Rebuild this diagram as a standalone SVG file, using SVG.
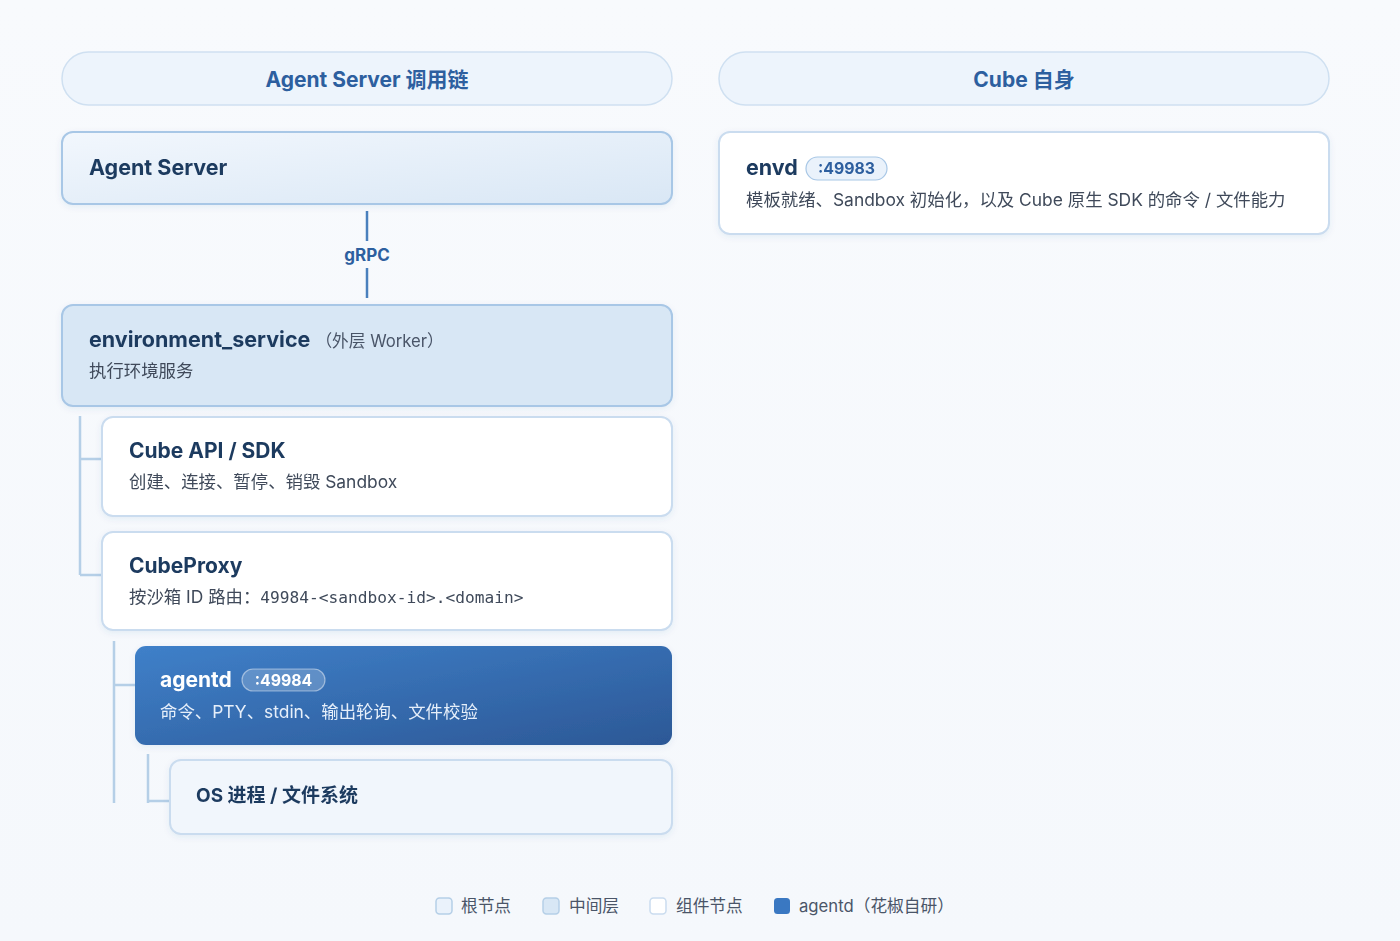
<svg xmlns="http://www.w3.org/2000/svg" width="1400" height="941" viewBox="0 0 1400 941">
<defs>
<linearGradient id="bg" x1="0" y1="0" x2="0" y2="1"><stop offset="0" stop-color="#f8fafd"/><stop offset="1" stop-color="#f5f8fc"/></linearGradient>
<linearGradient id="rootG" x1="0" y1="0" x2="1" y2="1"><stop offset="0" stop-color="#f2f7fd"/><stop offset="1" stop-color="#d9e7f5"/></linearGradient>
<linearGradient id="agentG" x1="0" y1="0" x2="1" y2="1"><stop offset="0" stop-color="#3f80c9"/><stop offset="1" stop-color="#2c5896"/></linearGradient>
<filter id="sh" x="-5%" y="-20%" width="110%" height="150%"><feDropShadow dx="0" dy="2" stdDeviation="3" flood-color="#2c5896" flood-opacity="0.08"/></filter>
<style>
text{font-family:Inter,"Noto Sans","Noto Sans CJK SC",sans-serif;}
.hdr{fill:#edf4fc;stroke:#cfe0f1;stroke-width:1.5;}
.hdrT{font-size:21px;font-weight:700;fill:#2d5f9f;text-anchor:middle;}
.node{stroke:#cadcef;stroke-width:2;}
.title{font-size:21px;font-weight:700;fill:#1e3a5f;}
.big{font-size:21.5px;}
.sub{font-size:17.4px;fill:#3f4a5a;}
.note{font-size:16.7px;fill:#4a5568;}
.mono{font-family:"DejaVu Sans Mono","Liberation Mono",monospace;font-size:16.2px;fill:#3f4a5a;}
.tree{fill:none;stroke:#b5cfe7;stroke-width:2.5;}
.conn{stroke:#4a80bd;stroke-width:2.5;}
.connT{font-size:17px;font-weight:700;fill:#2d5f9f;text-anchor:middle;}
.lg{font-size:16.7px;fill:#4a5568;}
.sw{stroke-width:1.5;}
.pill{font-size:15.8px;font-weight:700;text-anchor:middle;}
</style>
</defs>
<rect width="1400" height="941" fill="url(#bg)"/>

<g id="header-left"><rect class="hdr" x="62" y="52" width="610" height="53" rx="26.5"/><text class="hdrT" x="367" y="87">Agent Server 调用链</text></g>
<g id="header-right"><rect class="hdr" x="719" y="52" width="610" height="53" rx="26.5"/><text class="hdrT" x="1024" y="87">Cube 自身</text></g>

<g id="connectors">
<line class="conn" x1="367" y1="211" x2="367" y2="241"/>
<text class="connT" x="367" y="261">gRPC</text>
<line class="conn" x1="367" y1="268" x2="367" y2="298"/>
<path class="tree" d="M80 416 V575 M80 459 H102 M80 575 H102"/>
<path class="tree" d="M114 641 V803 M114 685 H135"/>
<path class="tree" d="M148 754 V803 M148 801 H170"/>
</g>

<g id="agent-server" filter="url(#sh)"><rect x="62" y="132" width="610" height="72" rx="11" fill="url(#rootG)" stroke="#a8c7e6" stroke-width="2"/><text class="title big" x="89" y="175">Agent Server</text></g>

<g id="environment-service" filter="url(#sh)"><rect x="62" y="305" width="610" height="101" rx="11" fill="#d8e7f5" stroke="#a8c7e6" stroke-width="2"/>
<text x="89" y="347"><tspan class="title big">environment_service</tspan><tspan class="note" dx="5">（外层 Worker）</tspan></text>
<text class="sub" x="89" y="377">执行环境服务</text></g>

<g id="cube-api" filter="url(#sh)"><rect class="node" x="102" y="417" width="570" height="99" rx="11" fill="#ffffff"/>
<text class="title" x="129" y="458">Cube API / SDK</text><text class="sub" x="129" y="488">创建、连接、暂停、销毁 Sandbox</text></g>

<g id="cubeproxy" filter="url(#sh)"><rect class="node" x="102" y="532" width="570" height="98" rx="11" fill="#ffffff"/>
<text class="title" x="129" y="573">CubeProxy</text><text x="129" y="603"><tspan class="sub">按沙箱 ID 路由：</tspan><tspan class="mono">49984-&lt;sandbox-id&gt;.&lt;domain&gt;</tspan></text></g>

<g id="agentd" filter="url(#sh)"><rect x="135" y="646" width="537" height="99" rx="11" fill="url(#agentG)"/>
<text class="title" x="160" y="687" style="fill:#fff">agentd</text>
<rect x="242" y="669" width="83" height="22" rx="11" fill="#ffffff" fill-opacity="0.2" stroke="#ffffff" stroke-opacity="0.45" stroke-width="1.2"/>
<text class="pill" x="283.5" y="686" fill="#ffffff">:49984</text>
<text class="sub" x="160" y="718" style="fill:#e6effa">命令、PTY、stdin、输出轮询、文件校验</text></g>

<g id="os" filter="url(#sh)"><rect class="node" x="170" y="760" width="502" height="74" rx="11" fill="#f1f6fc"/>
<text class="title" x="196" y="802" style="font-size:19px">OS 进程 / 文件系统</text></g>

<g id="envd" filter="url(#sh)"><rect class="node" x="719" y="132" width="610" height="102" rx="11" fill="#ffffff"/>
<text class="title" x="746" y="175" style="font-size:21.5px">envd</text>
<rect x="806" y="157" width="81" height="23" rx="11.5" fill="#eaf2fb" stroke="#a8c7e6" stroke-width="1.2"/>
<text class="pill" x="846.5" y="174" fill="#2d5f9f">:49983</text>
<text class="sub" x="746" y="206">模板就绪、Sandbox 初始化，以及 Cube 原生 SDK 的命令 / 文件能力</text></g>

<g id="legend">
<rect class="sw" x="436" y="898" width="16" height="16" rx="3.5" fill="#eaf2fb" stroke="#b5cfe7"/><text class="lg" x="461" y="912">根节点</text>
<rect class="sw" x="543" y="898" width="16" height="16" rx="3.5" fill="#d8e7f5" stroke="#b5cfe7"/><text class="lg" x="569" y="912">中间层</text>
<rect class="sw" x="650" y="898" width="16" height="16" rx="3.5" fill="#ffffff" stroke="#cadcef"/><text class="lg" x="676" y="912">组件节点</text>
<rect x="774" y="898" width="16" height="16" rx="3.5" fill="#3a78c2"/><text class="lg" x="799" y="912">agentd（花椒自研）</text>
</g>
</svg>
